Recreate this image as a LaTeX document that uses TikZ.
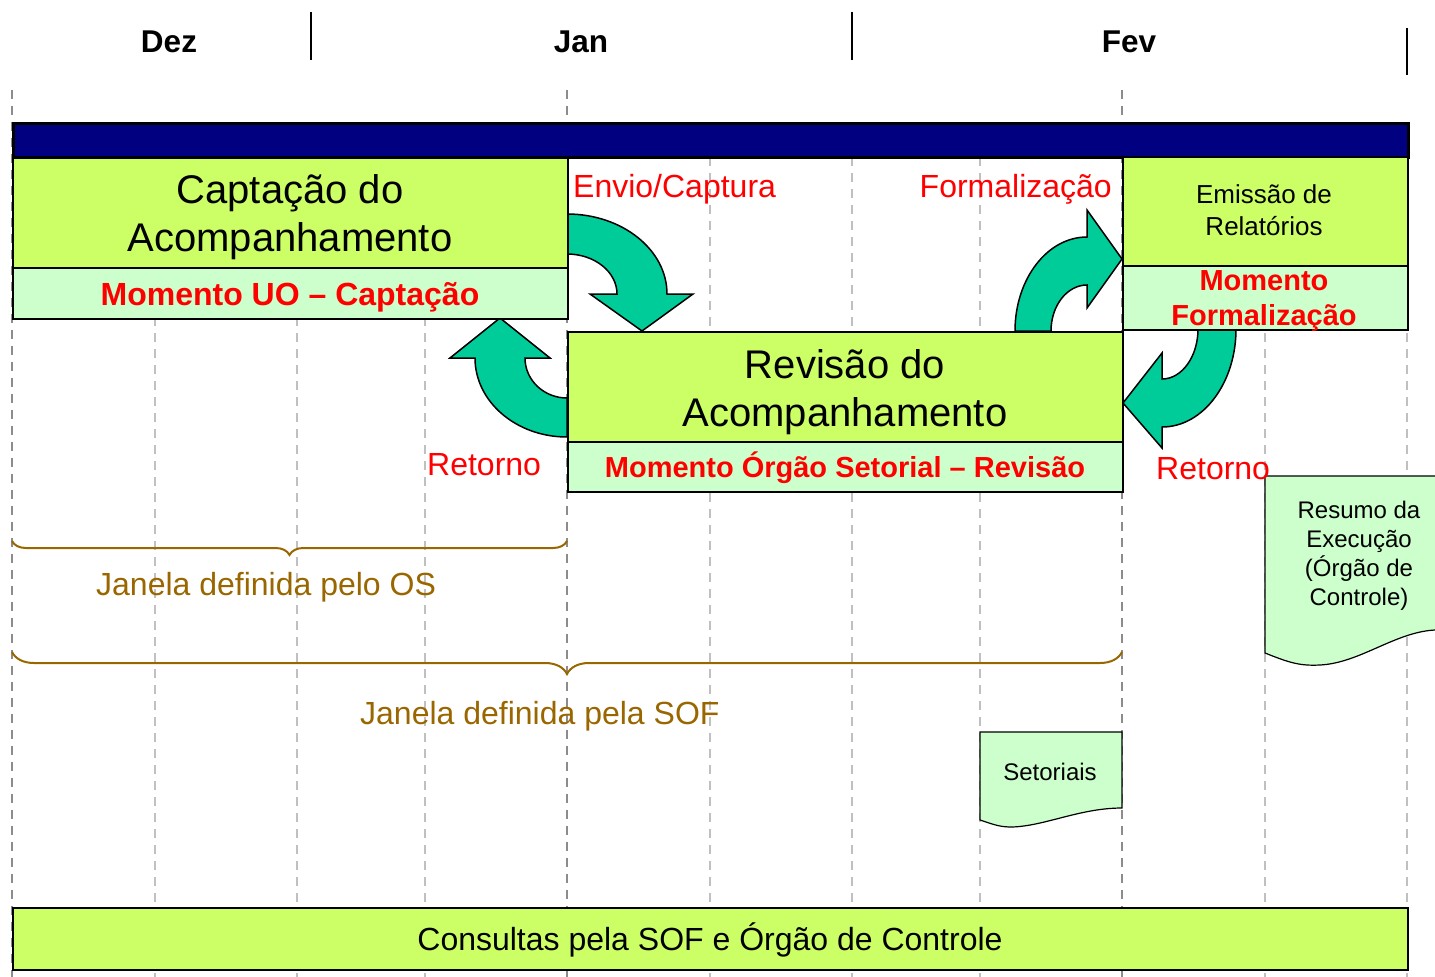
\documentclass[tikz,border=0pt]{standalone}
\usepackage{fontspec}
\setmainfont{Liberation Sans}
\usetikzlibrary{decorations.pathreplacing}
\definecolor{limefill}{HTML}{CCFF66}
\definecolor{palefill}{HTML}{CCFFCC}
\definecolor{arrowfill}{HTML}{00CC99}
\definecolor{barblue}{HTML}{000080}
\definecolor{bracebrown}{HTML}{996600}
\definecolor{gridgray}{HTML}{C0C0C0}
\definecolor{griddark}{HTML}{8C8C8C}
\newcommand{\fsz}[2]{\fontsize{#1}{#2}\selectfont}
\begin{document}
\begin{tikzpicture}[x=1pt,y=1pt,
  limebox/.style={draw=black, line width=1.5pt, fill=limefill, inner sep=0pt, anchor=north west},
  palebox/.style={draw=black, line width=1.5pt, fill=palefill, inner sep=0pt, anchor=north west},
  title/.style={font=\fsz{40}{48}, align=center, inner sep=0pt},
  moment/.style={font=\fsz{29}{35}\bfseries, text=red, align=center, inner sep=0pt},
  redlabel/.style={font=\fsz{32}{38}, text=red, inner sep=0pt},
  month/.style={font=\fsz{31.5}{36}\bfseries, inner sep=0pt, anchor=base},
  winlabel/.style={font=\fsz{32}{38}, text=bracebrown, inner sep=0pt, anchor=base west},
  gridlight/.style={draw=gridgray, line width=1.5pt, dash pattern=on 9pt off 7pt},
  griddeep/.style={draw=griddark, line width=1.5pt, dash pattern=on 9pt off 7pt},
  curvedarrow/.style={draw=black, line width=1.5pt, fill=arrowfill, line join=miter},
  docshape/.style={draw=black, line width=1.2pt, fill=palefill},
  doctext/.style={font=\fsz{24}{29}, align=center, inner sep=0pt},
  windowbrace/.style={draw=bracebrown, line width=2pt, decorate},
  monthsep/.style={draw=black, line width=2pt}
]
\useasboundingbox (0,0) rectangle (1435,-977);
% grid
\foreach \x in {155,297,425,710,852,980,1265,1407} \draw[gridlight] (\x,-157) -- (\x,-977);
\foreach \x in {12,567,1122} \draw[griddeep] (\x,-90) -- (\x,-977);
% header
\node[month] (dez) at (169,-52) {Dez};
\node[month] (jan) at (581,-52) {Jan};
\node[month] (fev) at (1129,-52) {Fev};
\draw[monthsep] (311,-12) -- (311,-60);
\draw[monthsep] (852,-12) -- (852,-60);
\draw[monthsep] (1407,-28) -- (1407,-75);
% top bar
\node[draw=black, line width=3pt, fill=barblue, minimum width=1395pt, minimum height=34pt, inner sep=0pt, anchor=north west] (bar) at (12,-122) {};
% curved arrows
\draw[curvedarrow] (567,-214) arc[start angle=90, end angle=0, x radius=100, y radius=80]
  -- (693,-294) -- (642,-331) -- (590,-294) -- (617,-294)
  arc[start angle=0, end angle=90, x radius=50, y radius=40] -- cycle;
\draw[curvedarrow] (567,-437) arc[start angle=270, end angle=180, x radius=92, y radius=79]
  -- (450,-358) -- (500,-318) -- (550,-358) -- (525,-358)
  arc[start angle=180, end angle=270, x radius=42, y radius=40] -- cycle;
\draw[curvedarrow] (1015,-331) arc[start angle=180, end angle=90, x radius=72, y radius=94]
  -- (1087,-210) -- (1122,-259) -- (1087,-308) -- (1087,-285)
  arc[start angle=90, end angle=180, x radius=36, y radius=46] -- cycle;
\draw[curvedarrow] (1236,-329) arc[start angle=0, end angle=-90, x radius=74, y radius=98]
  -- (1162,-448) -- (1123,-403) -- (1162,-353) -- (1162,-379)
  arc[start angle=-90, end angle=0, x radius=36, y radius=50] -- cycle;
% boxes
\node[limebox, minimum width=555pt, minimum height=110pt] (capt) at (12,-157) {};
\node[palebox, minimum width=555pt, minimum height=51pt] (captm) at (12,-267) {};
\node[limebox, minimum width=555pt, minimum height=110pt] (rev) at (567,-331) {};
\node[palebox, minimum width=555pt, minimum height=50pt] (revm) at (567,-441) {};
\node[limebox, minimum width=285pt, minimum height=109pt] (emis) at (1122,-156) {};
\node[palebox, minimum width=285pt, minimum height=64pt] (emism) at (1122,-265) {};
\node[limebox, minimum width=1395pt, minimum height=62pt] (cons) at (12,-907) {};
% documents
\draw[docshape] (1265,-476) -- (1442,-476) -- (1442,-630) -- (1435,-630)
  .. controls (1395,-632) and (1360,-663) .. (1320,-665)
  .. controls (1300,-666) and (1290,-663) .. (1265,-653) -- cycle;
\draw[docshape] (980,-732) -- (1122,-732) -- (1122,-808)
  .. controls (1080,-808) and (1045,-826) .. (1012,-827)
  .. controls (1000,-827) and (995,-825) .. (980,-820) -- cycle;
% braces
\draw[windowbrace, decoration={brace, amplitude=14pt, mirror}] (12,-541) -- (567,-541);
\draw[windowbrace, decoration={brace, amplitude=22pt, mirror}] (12,-652) -- (1122,-652);
% texts
\node[title] (captt) at (290,-217) {Captação do\\Acompanhamento};
\node[moment, font=\fsz{32}{38}\bfseries, anchor=base] (captmt) at (290,-305) {Momento UO – Captação};
\node[title] (revt) at (845,-392) {Revisão do\\Acompanhamento};
\node[moment, anchor=base] (revmt) at (845,-477) {Momento Órgão Setorial – Revisão};
\node[font=\fsz{26}{32}, align=center, inner sep=0pt] (emist) at (1264,-210) {Emissão de\\Relatórios};
\node[moment] (emismt) at (1264,-301) {Momento\\Formalização};
\node[font=\fsz{32}{38}, inner sep=0pt, anchor=base] (const) at (710,-950) {Consultas pela SOF e Órgão de Controle};
\node[redlabel, anchor=base west] (envio) at (573,-197) {Envio/Captura};
\node[redlabel, anchor=base east] (formal) at (1112,-197) {Formalização};
\node[redlabel, anchor=base west] (ret1) at (427,-475) {Retorno};
\node[redlabel, anchor=base west] (ret2) at (1156,-479) {Retorno};
\node[winlabel] (janos) at (96,-595) {Janela definida pelo OS};
\node[winlabel] (jansof) at (360,-724) {Janela definida pela SOF};
\node[doctext] (resumo) at (1359,-556) {Resumo da\\Execução\\(Órgão de\\Controle)};
\node[doctext, anchor=base] (setor) at (1050,-780) {Setoriais};
\end{tikzpicture}
\end{document}
